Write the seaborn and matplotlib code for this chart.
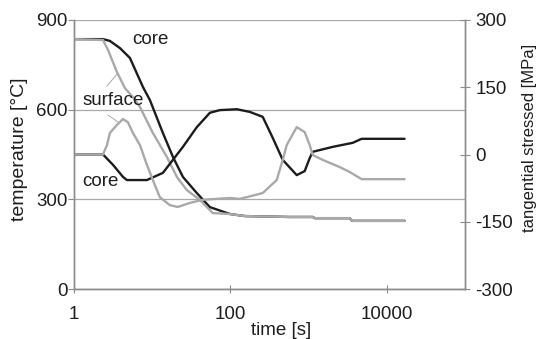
import matplotlib
matplotlib.use("Agg")
import matplotlib.pyplot as plt
import seaborn as sns
import pandas as pd

# ---- data ----
time_core_T = [1, 2.35, 2.88, 3.87, 5.19, 7.61, 9.35, 13.7, 18.4, 24.7, 37.2, 54.6, 98.3, 153, 574, 1128, 1200, 3350, 3600, 16870]
core_T = [836, 836, 830, 806, 773, 676, 632, 522, 442, 375, 321, 274, 251, 244, 241, 241, 237, 237, 228, 228]

time_surf_T = [1, 2.35, 2.72, 3.54, 4.48, 5.67, 6.97, 10.2, 15.4, 20.7, 27.7, 40.7, 59.6, 98.3, 153, 574, 1128, 1200, 3350, 3600, 16870]
surf_T = [836, 833, 800, 726, 672, 642, 609, 522, 442, 375, 331, 298, 254, 251, 244, 241, 241, 237, 237, 228, 228]

time_core_S = [1, 2.35, 3.15, 4.23, 4.75, 8.55, 13.7, 18.4, 24.7, 37.2, 54.6, 73.2, 121, 177, 259, 348, 467, 705, 892, 1033, 1128, 2031, 3658, 4767, 16870]
core_S = [0, 0, -23, -50, -57, -57, -41, -12, 17, 61, 93, 99, 101, 95, 84, 37, -12, -46, -37, -8, 6, 17, 26, 35, 35]

time_surf_S = [1, 2.35, 2.64, 2.88, 3.54, 4.23, 4.89, 5.67, 6.97, 8.55, 10.2, 12.5, 16.8, 21.3, 30.3, 44.4, 98.3, 132, 259, 391, 467, 525, 705, 892, 1033, 1128, 1514, 2496, 3350, 4767, 16870]
surf_S = [0, 0, 21, 48, 66, 79, 72, 48, 21, -23, -57, -95, -113, -117, -108, -101, -97, -99, -86, -57, -12, 21, 61, 50, 21, -1, -12, -28, -39, -55, -55]

x_ticks = [1, 100, 10000]
x_ticklabels = ["1", "100", "10000"]
T_ticks = [0, 300, 600, 900]
S_ticks = [-300, -150, 0, 150, 300]

# annotation leader lines for "surface" (time, temperature)
lead1_t = [2.64, 3.65]
lead1_T = [679, 723]
lead2_t = [2.72, 3.65]
lead2_T = [582, 559]

BLACK = "#1c1c1c"
GRAY = "#a9a9a9"
AXC = "#8c8c8c"
TXT = "#1e1e1e"

sns.set_style("white")
plt.rcParams['font.family'] = ['Liberation Sans', 'DejaVu Sans']

fig = plt.figure(figsize=(5.4, 3.39), dpi=100)
ax = fig.add_axes([74/540, 1-289/339, (465-74)/540, (289-20)/339])
ax2 = ax.twinx()

dfcT = pd.DataFrame({"t": time_core_T, "v": core_T})
dfsT = pd.DataFrame({"t": time_surf_T, "v": surf_T})
dfcS = pd.DataFrame({"t": time_core_S, "v": core_S})
dfsS = pd.DataFrame({"t": time_surf_S, "v": surf_S})

sns.lineplot(data=dfcT, x="t", y="v", ax=ax, color=BLACK, lw=1.7, estimator=None, sort=False)
sns.lineplot(data=dfsT, x="t", y="v", ax=ax, color=GRAY, lw=1.7, estimator=None, sort=False)
sns.lineplot(data=dfcS, x="t", y="v", ax=ax2, color=BLACK, lw=1.7, estimator=None, sort=False)
sns.lineplot(data=dfsS, x="t", y="v", ax=ax2, color=GRAY, lw=1.7, estimator=None, sort=False)

ax.plot(lead1_t, lead1_T, color=GRAY, lw=0.7)
ax.plot(lead2_t, lead2_T, color=GRAY, lw=0.7)

ax.set_xscale("log")
ax.set_xlim(1, 1e5)
ax.set_ylim(0, 900)
ax2.set_ylim(-300, 300)
ax.set_xticks(x_ticks)
ax.set_xticklabels(x_ticklabels)
ax.minorticks_off()
ax2.minorticks_off()
ax.set_yticks(T_ticks)
ax2.set_yticks(S_ticks)
ax2.set_yticklabels([str(v) for v in S_ticks])

for a in (ax, ax2):
    a.set_facecolor("none")
    for s in a.spines.values():
        s.set_color(AXC)
        s.set_linewidth(1.0)
    a.spines["top"].set_visible(False)

ax.yaxis.grid(True, color="#a8a8a8", lw=0.9)
ax.xaxis.grid(False)
ax2.grid(False)
ax.set_axisbelow(True)

ax.tick_params(axis="y", direction="out", length=4, color=AXC, labelsize=13.5, labelcolor=TXT, pad=0.5)
ax.tick_params(axis="x", direction="inout", length=6, color=AXC, labelsize=13.5, labelcolor=TXT, pad=9, bottom=True)
ax2.tick_params(axis="y", direction="inout", length=7, color=AXC, labelsize=13.5, labelcolor=TXT, pad=4, right=True)

ax.set_xlabel("time [s]", fontsize=13.5, color=TXT)
ax.xaxis.set_label_coords(0.53, -0.124)
ax.set_ylabel("temperature [°C]", fontsize=14, color=TXT)
ax.yaxis.set_label_coords(-0.118, 0.52)
ax2.set_ylabel("tangential stressed [MPa]", fontsize=12, color=TXT, rotation=90)
ax2.yaxis.set_label_coords(1.145, 0.56)

ax.text(9.36, 836, "core", fontsize=13.5, color=TXT, ha="center", va="center")
ax.text(3.15, 632, "surface", fontsize=13.5, color=TXT, ha="center", va="center")
ax.text(2.15, 358, "core", fontsize=13.5, color=TXT, ha="center", va="center")

fig.savefig("out.png", dpi=100)
